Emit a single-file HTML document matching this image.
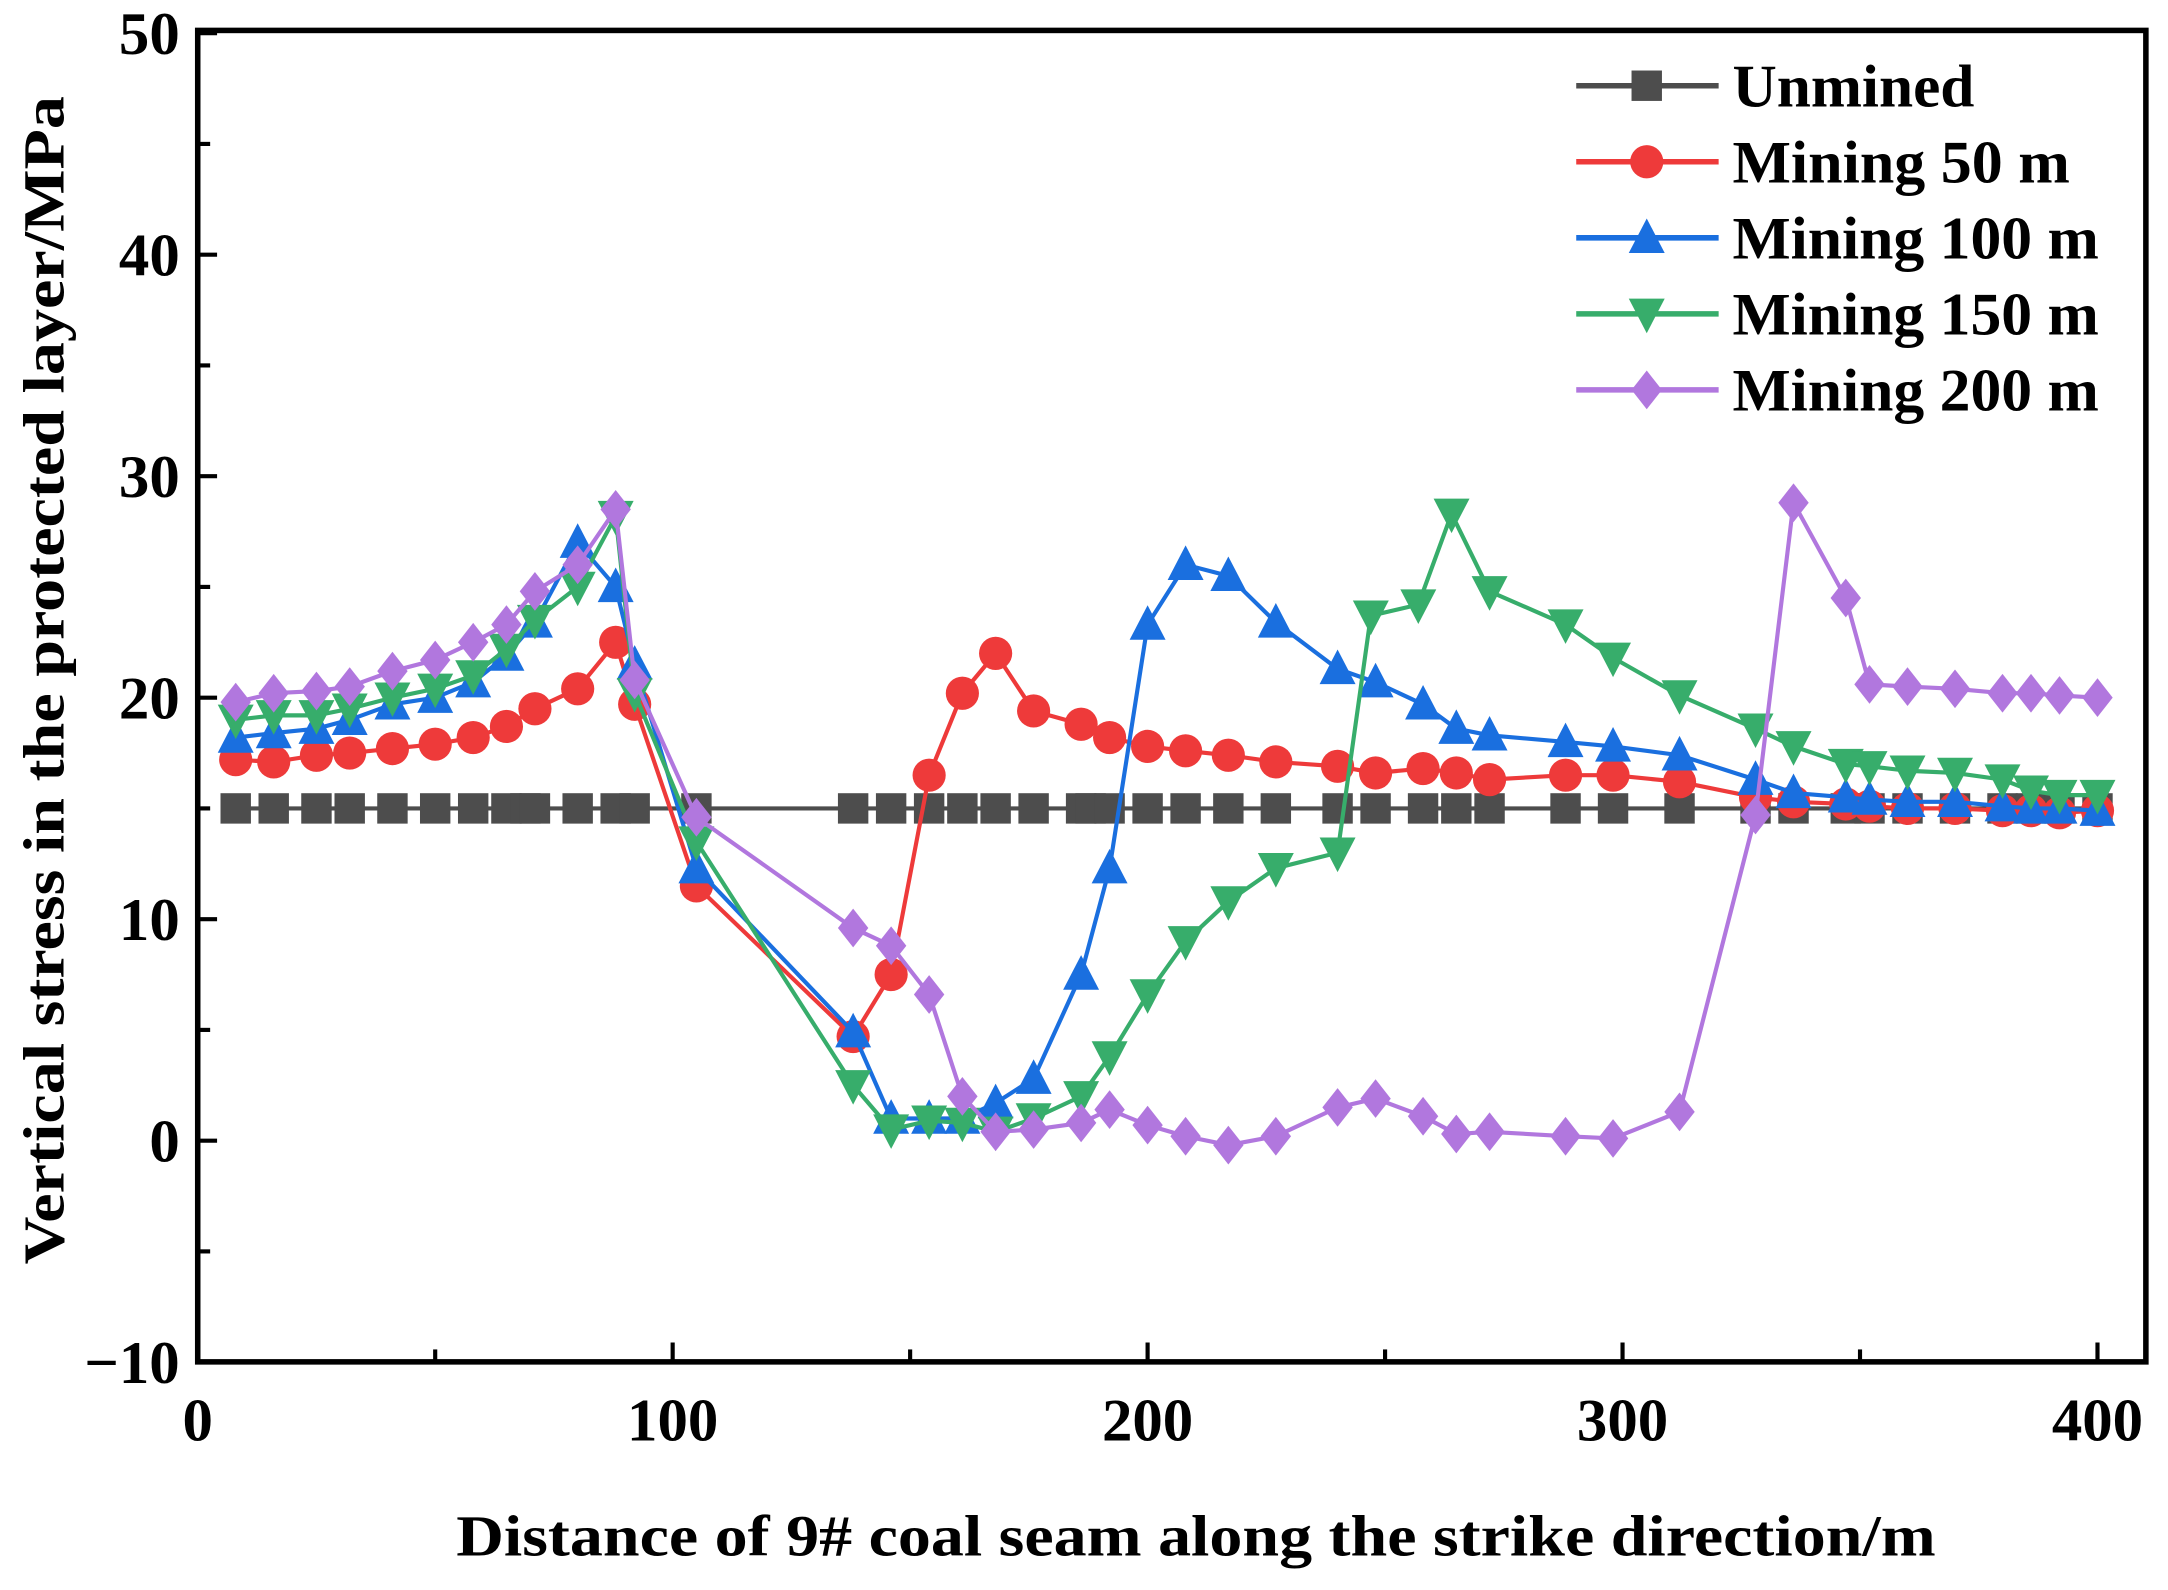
<!DOCTYPE html>
<html><head><meta charset="utf-8"><style>html,body{margin:0;padding:0;background:#fff}svg{display:block}text{font-family:"Liberation Serif",serif;font-weight:bold;fill:#000}</style></head>
<body>
<svg id="chart" width="2168" height="1590" viewBox="0 0 1568 1150" preserveAspectRatio="none" xmlns="http://www.w3.org/2000/svg">
<g id="plot"></g>
</svg>
<script>
const xUnmined=[8,16,25,32,41,50,58,65,69,71,80,88,92,105,138,146,154,161,168,176,186,188,192,200,208,217,227,240,248,258,265,272,288,298,312,328,336,347,352,360,370,380,386,392,400];
const yUnmined=xUnmined.map(()=>15);
const x50=[8,16,25,32,41,50,58,65,71,80,88,92,105,138,146,154,161,168,176,186,192,200,208,217,227,240,248,258,265,272,288,298,312,328,336,347,352,360,370,380,386,392,400];
const y50=[17.2,17.1,17.4,17.5,17.7,17.9,18.2,18.7,19.5,20.4,22.5,19.7,11.5,4.7,7.5,16.5,20.2,22,19.4,18.8,18.2,17.8,17.6,17.4,17.1,16.9,16.6,16.8,16.6,16.3,16.5,16.5,16.2,15.5,15.3,15.2,15.1,15.0,15.0,14.9,14.9,14.8,14.9];
const x100=[8,16,25,32,41,50,58,65,71,80,88,92,105,138,146,154,161,168,176,186,192,200,208,217,227,240,248,258,265,272,288,298,312,328,336,347,352,360,370,380,386,392,400];
const y100=[18.2,18.4,18.6,19,19.7,20,20.7,21.9,23.4,27,25,21.5,12.3,4.9,1,1,1,1.7,2.8,7.5,12.3,23.3,26,25.5,23.4,21.3,20.7,19.7,18.6,18.3,18,17.8,17.4,16.3,15.7,15.5,15.4,15.3,15.3,15.1,15,15,14.9];
const x150=[8,16,25,32,41,50,58,65,71,80,88,92,105,138,146,154,161,168,176,186,192,200,208,217,227,240,247,257,264,272,288,298,312,328,336,347,352,360,370,380,386,392,400];
const y150=[19,19.2,19.2,19.5,20,20.4,21,22.2,23.5,25,28.2,20.2,13.5,2.5,0.5,0.9,0.8,0.4,1,2,3.8,6.6,9,10.8,12.3,13,23.7,24.2,28.3,24.8,23.3,21.8,20.1,18.6,17.8,17,16.9,16.7,16.6,16.3,15.8,15.6,15.6];
const x200=[8,16,25,32,41,50,58,65,71,80,88,92,105,138,146,154,161,168,176,186,192,200,208,217,227,240,248,258,265,272,288,298,312,328,336,347,352,360,370,380,386,392,400];
const y200=[19.8,20.2,20.3,20.5,21.2,21.7,22.5,23.3,24.8,26,28.5,20.8,14.6,9.6,8.8,6.6,2,0.4,0.5,0.8,1.4,0.7,0.2,-0.2,0.2,1.5,1.9,1.1,0.3,0.4,0.2,0.1,1.3,14.7,28.8,24.5,20.6,20.5,20.4,20.2,20.2,20.1,20];
const xTicks=[0,100,200,300,400];
const yTicks=[-10,0,10,20,30,40,50];

const NS='http://www.w3.org/2000/svg';
const g=document.getElementById('plot');
const L=143,R=1552,T=22,B=985;
const X=v=>143+v*3.435;
const Y=v=>825-v*16.02;
function el(tag,attrs,parent){const e=document.createElementNS(NS,tag);for(const k in attrs)e.setAttribute(k,attrs[k]);(parent||g).appendChild(e);return e;}

const frame=el('rect',{x:L,y:T,width:R-L,height:B-T,fill:'none',stroke:'#000','stroke-width':4});



for(let v=0;v<=400;v+=50){
  const len=v%100===0?14:9;
  const t=el('line',{x1:X(v),x2:X(v),y1:B,y2:B-len,stroke:'#000','stroke-width':3});
  
  
}
xTicks.forEach(v=>{
  const t=el('text',{x:X(v),y:1042,'text-anchor':'middle','font-size':44});
  t.textContent=v;
  
  
});
for(let v=-10;v<=50;v+=5){
  const len=v%10===0?14:9;
  const t=el('line',{x1:L,x2:L+len,y1:Y(v),y2:Y(v),stroke:'#000','stroke-width':3});
  
  
}
yTicks.forEach(v=>{
  const t=el('text',{x:130,y:Y(v)+15,'text-anchor':'end','font-size':44});
  t.textContent=v<0?'\u221210':v;
  
  
});
const xt=el('text',{x:865,y:1125,'text-anchor':'middle','font-size':42,textLength:1070,lengthAdjust:'spacingAndGlyphs'});
xt.textContent='Distance of 9# coal seam along the strike direction/m';


const yt=el('text',{x:0,y:0,'text-anchor':'middle','font-size':42,textLength:845,lengthAdjust:'spacingAndGlyphs',transform:'translate(46,492) rotate(-90)'});
yt.textContent='Vertical stress in the protected layer/MPa';



function marker(type,cx,cy,color,parent){
  const s=11;
  let m;
  if(type==='sq') m=el('rect',{x:cx-s,y:cy-s,width:2*s,height:2*s,fill:color},parent);
  else if(type==='ci') m=el('circle',{cx,cy,r:s+1,fill:color},parent);
  else if(type==='up') m=el('polygon',{points:`${cx},${cy-s-3} ${cx+s+2},${cy+s} ${cx-s-2},${cy+s}`,fill:color},parent);
  else if(type==='dn') m=el('polygon',{points:`${cx},${cy+s+3} ${cx+s+2},${cy-s} ${cx-s-2},${cy-s}`,fill:color},parent);
  else m=el('polygon',{points:`${cx},${cy-s-3} ${cx+s},${cy} ${cx},${cy+s+3} ${cx-s},${cy}`,fill:color},parent);
  return m;
}
const series=[
 {name:'unmined',label:'Unmined',w:175,xs:xUnmined,ys:yUnmined,color:'#4d4d4d',m:'sq'},
 {name:'mining-50m',label:'Mining 50 m',w:244,xs:x50,ys:y50,color:'#ee3a3a',m:'ci'},
 {name:'mining-100m',label:'Mining 100 m',w:265,xs:x100,ys:y100,color:'#1a6fdf',m:'up'},
 {name:'mining-150m',label:'Mining 150 m',w:265,xs:x150,ys:y150,color:'#37ad6b',m:'dn'},
 {name:'mining-200m',label:'Mining 200 m',w:265,xs:x200,ys:y200,color:'#b177de',m:'di'}
];
series.forEach((s,i)=>{
  const grp=el('g',{});
  
  
  const pts=s.xs.map((x,j)=>X(x)+','+Y(s.ys[j])).join(' ');
  const pl=el('polyline',{points:pts,fill:'none',stroke:s.color,'stroke-width':3},grp);
  
  
  s.xs.forEach((x,j)=>{
    const m=marker(s.m,X(x),Y(s.ys[j]),s.color,grp);
    
    
  });
  const ly=62+i*55;
  const lg=el('g',{});
  
  
  el('line',{x1:1140,x2:1243,y1:ly,y2:ly,stroke:s.color,'stroke-width':4},lg);
  marker(s.m,1191,ly,s.color,lg);
  const lt=el('text',{x:1253,y:ly+15,'font-size':44,textLength:s.w,lengthAdjust:'spacingAndGlyphs'},lg);
  lt.textContent=s.label;
});
</script>
</body></html>
